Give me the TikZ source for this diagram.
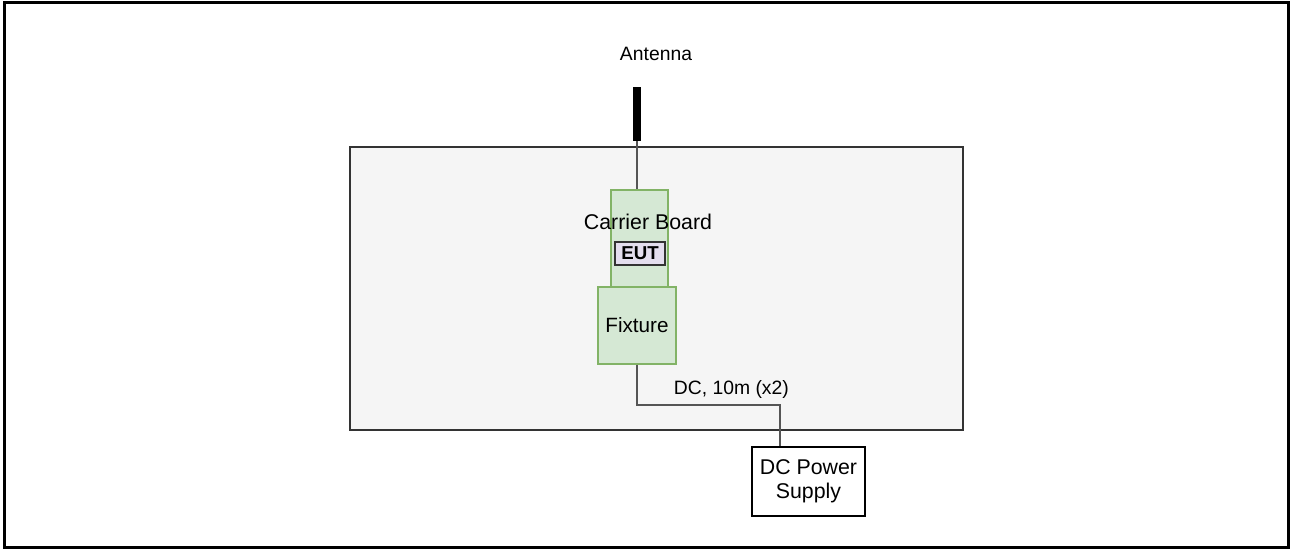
\documentclass[tikz,border=0pt]{standalone}
\usepackage{fontspec}
\setmainfont{Liberation Sans}
\usepackage{xcolor}
\definecolor{framecolor}{HTML}{000000}
\definecolor{roomfill}{HTML}{F5F5F5}
\definecolor{roomborder}{HTML}{333333}
\definecolor{greenfill}{HTML}{D5E8D4}
\definecolor{greenborder}{HTML}{82B366}
\definecolor{eutfill}{HTML}{E4DEEE}
\definecolor{cablecolor}{HTML}{555555}
\usetikzlibrary{positioning,calc}
\tikzset{
    room/.style={
        rectangle,
        draw=roomborder,
        fill=roomfill,
        minimum width=459.75pt,
        minimum height=212.25pt,
        line width=1pt,
        inner sep=0pt,
    },
    board/.style={
        rectangle,
        draw=greenborder,
        fill=greenfill,
        line width=1pt,
        inner sep=0pt,
    },
    eutbox/.style={
        rectangle,
        draw=roomborder,
        fill=eutfill,
        minimum width=37.5pt,
        minimum height=17.25pt,
        line width=1.4pt,
        inner sep=0pt,
        font=\fontsize{14}{16}\selectfont\bfseries,
    },
    supply/.style={
        rectangle,
        draw=black,
        fill=white,
        minimum width=84.75pt,
        minimum height=51.75pt,
        line width=1pt,
        align=center,
        inner sep=0pt,
        font=\fontsize{16}{18}\selectfont,
    },
    antennabar/.style={
        rectangle,
        fill=black,
        minimum width=6pt,
        minimum height=40.5pt,
        inner sep=0pt,
    },
    cable/.style={
        draw=cablecolor,
        line width=1.6pt,
    },
    label/.style={
        text=black,
        inner sep=0pt,
        font=\fontsize{14.5}{17}\selectfont,
    },
}

\begin{document}
\begin{tikzpicture}[x=0.75pt, y=-0.75pt]
    % Page size and outer frame
    \useasboundingbox (0,0) rectangle (1290,549);
    \draw[framecolor, line width=2.25pt] (4.5,3) rectangle (1288.5,547.5);

    % Test room
    \node[room] (room) at (656.5,288.5) {};

    % Antenna
    \node[label] (antlabel) at (656,54) {Antenna};
    \node[antennabar] (antenna) at (637,114) {};

    % Carrier board with EUT
    \node[board, minimum width=42.75pt, minimum height=72.75pt] (carrier) at (639.5,238.5) {};
    \node[label, font=\fontsize{16}{18}\selectfont] (cblabel) at (648,222) {Carrier Board};
    \node[eutbox] (eut) at (640,253.5) {EUT};

    % Fixture
    \node[board, minimum width=58.5pt, minimum height=57.75pt, font=\fontsize{15.5}{18}\selectfont] (fixture) at (637,325.5) {Fixture};

    % Power supply outside the room
    \node[supply] (psu) at (808.5,481.5) {DC Power\\Supply};

    % Cables
    \coordinate (dcbend) at (780,405);
    \draw[cable] (antenna.south) -- (antenna.south |- carrier.north);
    \draw[cable] (fixture.south) |- (dcbend)
        node[pos=0.83, above=4pt, label] (dclabel) {DC, 10m (x2)}
        -- (dcbend |- psu.north);

\end{tikzpicture}
\end{document}
